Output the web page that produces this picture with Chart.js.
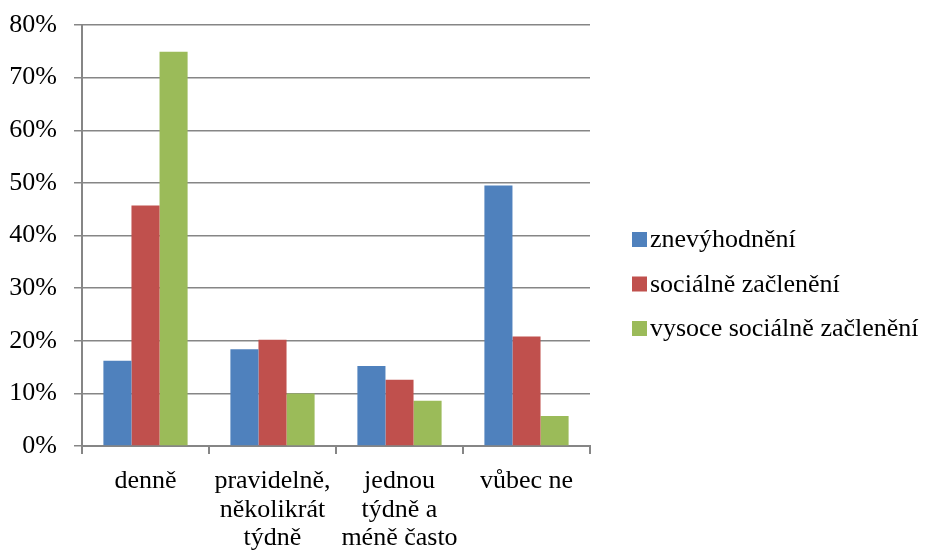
<!DOCTYPE html>
<html>
<head>
<meta charset="utf-8">
<script src="https://cdn.jsdelivr.net/npm/chart.js@4"></script>
<style>
  body { margin: 0; background: #fff; }
  #wrap { width: 928px; height: 553px; }
</style>
</head>
<body>
<div id="wrap"><canvas id="chart"></canvas></div>
<script>
const categories = ['denně', ['pravidelně,', 'několikrát', 'týdně'], ['jednou', 'týdně a', 'méně často'], 'vůbec ne'];
const seriesNames = ['znevýhodnění', 'sociálně začlenění', 'vysoce sociálně začlenění'];
const znevyhodneni = [16.2, 18.4, 15.2, 49.5];
const socialneZacleneni = [45.7, 20.2, 12.6, 20.8];
const vysoceZacleneni = [74.9, 10.0, 8.6, 5.7];
const colors = ['#4F81BD', '#C0504D', '#9BBB59'];

const axisGray = '#868686';
const font = { family: "'Liberation Serif', 'Times New Roman', serif", size: 26 };

// legend on the right, box + label, drawn by hand so the spacing is tight
const sideLegend = {
  id: 'sideLegend',
  afterDraw(chart) {
    const ctx = chart.ctx;
    const x = chart.chartArea.right + 42;
    ctx.save();
    ctx.font = font.size + 'px ' + font.family;
    ctx.textBaseline = 'middle';
    ctx.textAlign = 'left';
    chart.data.datasets.forEach((ds, i) => {
      const y = 239.5 + i * 44.5;
      ctx.fillStyle = ds.backgroundColor;
      ctx.fillRect(x, y - 7.5, 15, 15);
      ctx.fillStyle = '#000';
      ctx.fillText(ds.label, x + 18, y + 1);
    });
    ctx.restore();
  }
};

const ctx = document.getElementById('chart').getContext('2d');
const chart = new Chart(ctx, {
  type: 'bar',
  data: {
    labels: categories,
    datasets: [
      { label: seriesNames[0], data: znevyhodneni, backgroundColor: colors[0] },
      { label: seriesNames[1], data: socialneZacleneni, backgroundColor: colors[1] },
      { label: seriesNames[2], data: vysoceZacleneni, backgroundColor: colors[2] }
    ]
  },
  options: {
    responsive: true,
    maintainAspectRatio: false,
    animation: false,
    categoryPercentage: 0.663,
    barPercentage: 1,
    layout: { padding: { top: 25, right: 338, bottom: 0, left: 0 } },
    scales: {
      y: {
        min: 0,
        max: 80,
        ticks: {
          stepSize: 10,
          font: font,
          color: '#000',
          padding: 17,
          callback: v => v + '%'
        },
        grid: { color: axisGray, lineWidth: 1.5, tickLength: 8 },
        border: { color: axisGray, width: 2 },
        afterFit(scale) {
          scale.width = 82;
          // keep the tick padding from pushing the plot top down
          scale.paddingTop = 0;
          scale.paddingBottom = 0;
        }
      },
      x: {
        ticks: {
          font: { ...font, lineHeight: 1.1 },
          color: '#000',
          padding: 13,
          maxRotation: 0,
          autoSkip: false
        },
        grid: { drawOnChartArea: false, color: axisGray, lineWidth: 2, tickLength: 8, offset: true },
        border: { color: axisGray, width: 2 },
        afterFit(scale) { scale.height = 107; }
      }
    },
    plugins: {
      legend: { display: false },
      tooltip: { enabled: false }
    }
  },
  plugins: [sideLegend]
});
</script>
</body>
</html>
